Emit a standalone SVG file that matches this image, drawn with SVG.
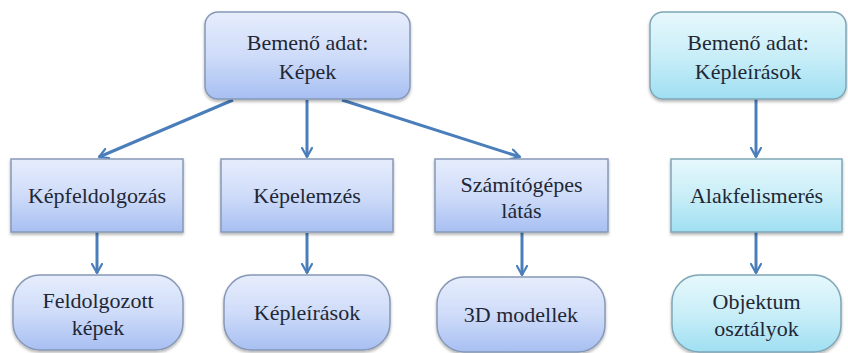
<svg xmlns="http://www.w3.org/2000/svg" width="848" height="353" viewBox="0 0 848 353">
<defs>
<linearGradient id="gBlue" x1="0" y1="0" x2="0" y2="1">
<stop offset="0" stop-color="#e6edfc"/>
<stop offset="0.5" stop-color="#cfdcf9"/>
<stop offset="1" stop-color="#a7bff2"/>
</linearGradient>
<linearGradient id="gCyan" x1="0" y1="0" x2="0" y2="1">
<stop offset="0" stop-color="#e6f8fc"/>
<stop offset="0.5" stop-color="#c9eef8"/>
<stop offset="1" stop-color="#9fdff2"/>
</linearGradient>
<filter id="sh" x="-10%" y="-10%" width="120%" height="130%">
<feDropShadow dx="0" dy="2" stdDeviation="1.5" flood-color="#000" flood-opacity="0.3"/>
</filter>
<marker id="ah" viewBox="0 0 12 12" refX="10" refY="6" markerWidth="4" markerHeight="4" markerUnits="strokeWidth" orient="auto">
<path d="M1,1 L10,6 L1,11" fill="none" stroke="#4a7ebb" stroke-width="2.2" stroke-linecap="round" stroke-linejoin="round"/>
</marker>
</defs>
<style>
.b{fill:url(#gBlue);stroke:#8798b6;stroke-width:1.5;filter:url(#sh)}
.c{fill:url(#gCyan);stroke:#7fa6b6;stroke-width:1.5;filter:url(#sh)}
text{font-family:Liberation Serif,DejaVu Serif,serif;font-size:22px;fill:#1f2735;text-anchor:middle}
.a{fill:none;stroke:#4a7ebb;stroke-width:3;marker-end:url(#ah)}
</style>
<g id="connectors">
<line class="a" x1="233" y1="100" x2="99" y2="157"/>
<line class="a" x1="307" y1="100" x2="307" y2="157"/>
<line class="a" x1="342" y1="100" x2="520" y2="157"/>
<line class="a" x1="97" y1="232" x2="97" y2="273"/>
<line class="a" x1="307" y1="233" x2="307" y2="273"/>
<line class="a" x1="522" y1="232" x2="522" y2="275"/>
<line class="a" x1="756" y1="99" x2="756" y2="157"/>
<line class="a" x1="756" y1="232" x2="756" y2="273"/>
</g>
<g id="n-input-kepek">
<rect class="b" x="205" y="12" width="205" height="87" rx="13"/>
<text x="307.5" y="50" font-family="Liberation Serif">Bemenő adat:</text>
<text x="307.5" y="79" font-family="Liberation Serif">Képek</text>
</g>
<g id="n-kepfeldolgozas">
<rect class="b" x="11" y="159" width="172" height="73"/>
<text x="97" y="203" font-family="Liberation Serif">Képfeldolgozás</text>
</g>
<g id="n-kepelemzes">
<rect class="b" x="221" y="159" width="172" height="73"/>
<text x="307" y="203" font-family="Liberation Serif">Képelemzés</text>
</g>
<g id="n-szamitogepes">
<rect class="b" x="435" y="159" width="173" height="73"/>
<text x="521.5" y="192" font-family="Liberation Serif">Számítógépes</text>
<text x="521.5" y="218" font-family="Liberation Serif">látás</text>
</g>
<g id="n-feldolgozott">
<rect class="b" x="13" y="275" width="170" height="75" rx="27"/>
<text x="98" y="308" font-family="Liberation Serif">Feldolgozott</text>
<text x="98" y="335" font-family="Liberation Serif">képek</text>
</g>
<g id="n-kepleirasok">
<rect class="b" x="224" y="275" width="166" height="75" rx="27"/>
<text x="307" y="320" font-family="Liberation Serif">Képleírások</text>
</g>
<g id="n-3d">
<rect class="b" x="437" y="277" width="168" height="75" rx="27"/>
<text x="521" y="322" font-family="Liberation Serif">3D modellek</text>
</g>
<g id="n-input-kepleirasok">
<rect class="c" x="650" y="12" width="196" height="87" rx="13"/>
<text x="748" y="50" font-family="Liberation Serif">Bemenő adat:</text>
<text x="748" y="79" font-family="Liberation Serif">Képleírások</text>
</g>
<g id="n-alakfelismeres">
<rect class="c" x="671" y="159" width="171" height="73"/>
<text x="756.5" y="203" font-family="Liberation Serif">Alakfelismerés</text>
</g>
<g id="n-objektum">
<rect class="c" x="672" y="275" width="169" height="77" rx="27"/>
<text x="756.5" y="309" font-family="Liberation Serif">Objektum</text>
<text x="756.5" y="336" font-family="Liberation Serif">osztályok</text>
</g>
</svg>
